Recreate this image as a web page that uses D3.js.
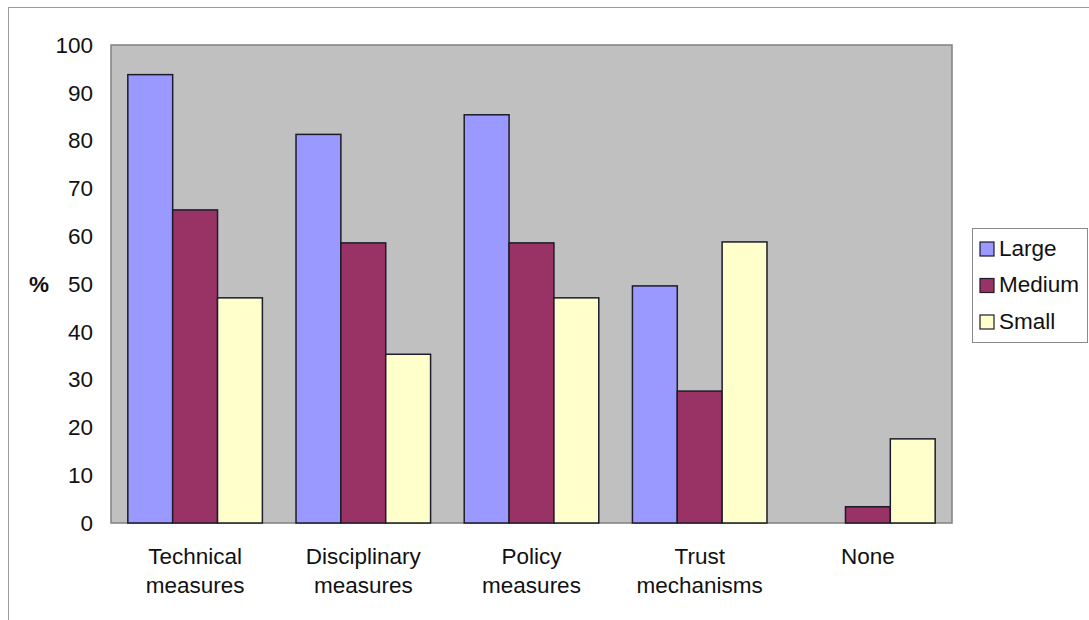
<!DOCTYPE html>
<html>
<head>
<meta charset="utf-8">
<script src="https://cdn.jsdelivr.net/npm/d3@7"></script>
<style>
  html, body { margin: 0; padding: 0; background: #fff; }
  svg { display: block; font-family: "Liberation Sans", Arial, sans-serif; }
</style>
</head>
<body>
<svg id="chart" width="1089" height="620"></svg>
<script>
// Categories (two-line labels) and series values in percent
const categories = ["Technical measures", "Disciplinary measures", "Policy measures", "Trust mechanisms", "None"];
const categoryLines = [["Technical", "measures"], ["Disciplinary", "measures"], ["Policy", "measures"], ["Trust", "mechanisms"], ["None"]];
const seriesNames = ["Large", "Medium", "Small"];
const large  = [93.8, 81.3, 85.4, 49.6, 0];
const medium = [65.5, 58.6, 58.6, 27.6, 3.4];
const small  = [47.1, 35.3, 47.1, 58.8, 17.6];
const yTicks = [0, 10, 20, 30, 40, 50, 60, 70, 80, 90, 100];
const colors = ["#9999FF", "#993366", "#FFFFCC"];

const seriesValues = [large, medium, small];
const FONT = 22.5;

const svg = d3.select("#chart");

// outer chart frame
svg.append("rect")
  .attr("x", 8.5).attr("y", 7.5)
  .attr("width", 1200).attr("height", 700)
  .attr("fill", "#fff").attr("stroke", "#9a9a9a").attr("stroke-width", 1);

const plot = { left: 111, top: 45, right: 952, bottom: 523 };

const x0 = d3.scaleBand()
  .domain(categories)
  .range([plot.left, plot.right])
  .paddingInner(0.2)
  .paddingOuter(0.1);

const x1 = d3.scaleBand()
  .domain(seriesNames)
  .range([0, x0.bandwidth()]);

const y = d3.scaleLinear().domain([0, 100]).range([plot.bottom, plot.top]);

// plot background
svg.append("rect")
  .attr("x", plot.left).attr("y", plot.top)
  .attr("width", plot.right - plot.left).attr("height", plot.bottom - plot.top)
  .attr("fill", "#C0C0C0").attr("stroke", "#808080").attr("stroke-width", 1.5);

// bars
const groups = svg.append("g").selectAll("g")
  .data(categories)
  .join("g")
  .attr("transform", d => `translate(${x0(d)},0)`);

groups.selectAll("rect")
  .data((c, i) => seriesNames.map((s, j) => ({ s, j, v: seriesValues[j][i] })))
  .join("rect")
  .filter(d => d.v > 0)
  .attr("x", d => x1(d.s))
  .attr("y", d => y(d.v))
  .attr("width", x1.bandwidth())
  .attr("height", d => y(0) - y(d.v))
  .attr("fill", d => colors[d.j])
  .attr("stroke", "#1c1c2a")
  .attr("stroke-width", 1.5);

// y axis labels
const yAxis = d3.axisLeft(y).tickValues(yTicks).tickSize(0).tickPadding(18);
const yg = svg.append("g")
  .attr("transform", `translate(${plot.left},0)`)
  .call(yAxis);
yg.select(".domain").remove();
yg.selectAll("text")
  .attr("font-size", FONT)
  .attr("font-family", "Liberation Sans, Arial, sans-serif")
  .attr("fill", "#111");

// y axis title
svg.append("text")
  .attr("x", 39).attr("y", 284)
  .attr("dy", "0.35em")
  .attr("text-anchor", "middle")
  .attr("font-size", FONT).attr("font-weight", "bold")
  .attr("fill", "#111")
  .text("%");

// category labels
const labels = svg.append("g").selectAll("text")
  .data(categories)
  .join("text")
  .attr("text-anchor", "middle")
  .attr("font-size", FONT)
  .attr("fill", "#111")
  .attr("x", d => x0(d) + x0.bandwidth() / 2)
  .attr("y", 564);
labels.each(function(d, i) {
  const t = d3.select(this);
  categoryLines[i].forEach((line, k) => {
    t.append("tspan")
      .attr("x", x0(d) + x0.bandwidth() / 2)
      .attr("dy", k === 0 ? 0 : 29)
      .text(line);
  });
});

// legend
const legend = svg.append("g").attr("transform", "translate(972,228)");
legend.append("rect")
  .attr("x", 0.5).attr("y", 0.5)
  .attr("width", 115).attr("height", 114)
  .attr("fill", "#fff").attr("stroke", "#8a8a8a").attr("stroke-width", 1);
const items = legend.selectAll("g.item")
  .data(seriesNames)
  .join("g")
  .attr("class", "item")
  .attr("transform", (d, i) => `translate(0,${20 + i * 36.5})`);
items.append("rect")
  .attr("x", 8).attr("y", -6)
  .attr("width", 14).attr("height", 14)
  .attr("fill", (d, i) => colors[i])
  .attr("stroke", "#1c1c2a").attr("stroke-width", 1.2);
items.append("text")
  .attr("x", 27).attr("y", 0)
  .attr("dy", "0.35em")
  .attr("font-size", FONT)
  .attr("fill", "#111")
  .text(d => d);
</script>
</body>
</html>
